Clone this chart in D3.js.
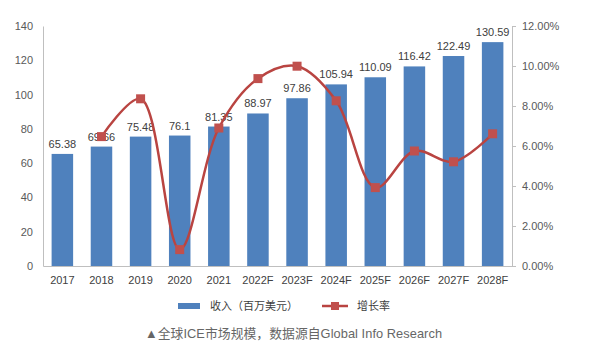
<!DOCTYPE html>
<html>
<head>
<meta charset="utf-8">
<script src="https://cdn.jsdelivr.net/npm/d3@7"></script>
<style>
  body { margin: 0; background: #fff; }
  text { font-family: "Liberation Sans", "Noto Sans CJK SC", sans-serif; }
</style>
</head>
<body>
<script>
const years = ["2017", "2018", "2019", "2020", "2021", "2022F", "2023F", "2024F", "2025F", "2026F", "2027F", "2028F"];
const revenue = [65.38, 69.66, 75.48, 76.1, 81.35, 88.97, 97.86, 105.94, 110.09, 116.42, 122.49, 130.59];
// growth rate in %, first year has none
const growth = [null, 6.47, 8.36, 0.82, 6.90, 9.37, 9.99, 8.26, 3.92, 5.75, 5.21, 6.61];
const leftTicks = [0, 20, 40, 60, 80, 100, 120, 140];
const rightTicks = [0, 2, 4, 6, 8, 10, 12];

const width = 592, height = 360;
const margin = {top: 26, right: 80, bottom: 94, left: 43};

const svg = d3.select("body").append("svg")
    .attr("width", width)
    .attr("height", height);

const x = d3.scaleBand()
    .domain(years)
    .range([margin.left, width - margin.right])
    .paddingInner(0.45)
    .paddingOuter(0.22);

const y = d3.scaleLinear().domain([0, 140]).range([height - margin.bottom, margin.top]);
const y2 = d3.scaleLinear().domain([0, 12]).range([height - margin.bottom, margin.top]);

// left axis
const leftAxis = svg.append("g")
    .attr("transform", `translate(${margin.left},0)`)
    .call(d3.axisLeft(y).tickValues(leftTicks).tickSize(0).tickPadding(10));
leftAxis.select(".domain").attr("stroke", "#bfbfbf");
leftAxis.selectAll("text").attr("fill", "#595959").style("font-size", "11px");

// right axis
const rightAxis = svg.append("g")
    .attr("transform", `translate(${width - margin.right},0)`)
    .call(d3.axisRight(y2).tickValues(rightTicks).tickSize(4).tickPadding(6)
        .tickFormat(d => d.toFixed(2) + "%"));
rightAxis.select(".domain").attr("stroke", "#bfbfbf");
rightAxis.selectAll(".tick line").attr("stroke", "#bfbfbf");
rightAxis.selectAll("text").attr("fill", "#595959").style("font-size", "11px");

// bottom axis
const bottomAxis = svg.append("g")
    .attr("transform", `translate(0,${height - margin.bottom})`)
    .call(d3.axisBottom(x).tickSize(0).tickPadding(10));
bottomAxis.select(".domain").attr("stroke", "#bfbfbf");
bottomAxis.selectAll("text").attr("fill", "#404040").style("font-size", "11px");

// bars
svg.selectAll(".bar")
    .data(revenue)
    .join("rect")
    .attr("class", "bar")
    .attr("x", (d, i) => x(years[i]))
    .attr("y", d => y(d))
    .attr("width", x.bandwidth())
    .attr("height", d => y(0) - y(d))
    .attr("fill", "#4f81bd");

// value labels
svg.selectAll(".val")
    .data(revenue)
    .join("text")
    .attr("class", "val")
    .attr("x", (d, i) => x(years[i]) + x.bandwidth() / 2)
    .attr("y", d => y(d) - 6)
    .attr("text-anchor", "middle")
    .attr("fill", "#404040")
    .style("font-size", "11px")
    .text(d => d);

// growth line
const pts = growth.map((g, i) => [years[i], g]).filter(p => p[1] !== null);
const line = d3.line()
    .x(p => x(p[0]) + x.bandwidth() / 2)
    .y(p => y2(p[1]))
    .curve(d3.curveCatmullRom.alpha(0.5));

svg.append("path")
    .datum(pts)
    .attr("d", line)
    .attr("fill", "none")
    .attr("stroke", "#b94441")
    .attr("stroke-width", 2.5);

svg.selectAll(".mk")
    .data(pts)
    .join("rect")
    .attr("class", "mk")
    .attr("x", p => x(p[0]) + x.bandwidth() / 2 - 4.5)
    .attr("y", p => y2(p[1]) - 4.5)
    .attr("width", 9)
    .attr("height", 9)
    .attr("fill", "#c0504d");

// legend
const lg = svg.append("g");
lg.append("rect").attr("x", 178).attr("y", 303).attr("width", 22).attr("height", 6).attr("fill", "#4f81bd");
lg.append("text").attr("x", 210).attr("y", 310).attr("fill", "#404040").style("font-size", "11px").text("收入（百万美元）");
lg.append("line").attr("x1", 322).attr("x2", 348).attr("y1", 306).attr("y2", 306)
    .attr("stroke", "#b94441").attr("stroke-width", 2.5);
lg.append("rect").attr("x", 331).attr("y", 302).attr("width", 8).attr("height", 8).attr("fill", "#c0504d");
lg.append("text").attr("x", 357).attr("y", 310).attr("fill", "#404040").style("font-size", "11px").text("增长率");

// caption
svg.append("text")
    .attr("x", 145)
    .attr("y", 338)
    .attr("fill", "#666")
    .style("font-size", "12.8px")
    .attr("textLength", 297)
    .text("▲全球ICE市场规模，数据源自Global Info Research");
</script>
</body>
</html>
